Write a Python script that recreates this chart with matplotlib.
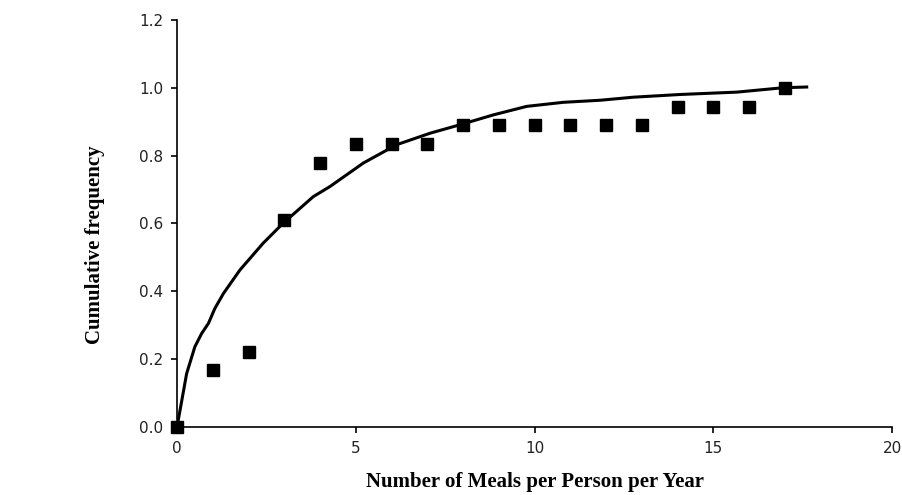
import matplotlib
matplotlib.use("Agg")
import matplotlib.pyplot as plt

# Observed cumulative frequency (squares)
refeicoes = [0, 1, 2, 3, 4, 5, 6, 7, 8, 9, 10, 11, 12, 13, 14, 15, 16, 17]
freq_obs = [0.0, 0.167, 0.222, 0.611, 0.778, 0.833, 0.833, 0.833, 0.889,
            0.889, 0.889, 0.889, 0.889, 0.889, 0.944, 0.944, 0.944, 1.0]

# Fitted curve (line)
curva_x = [0.0, 0.27, 0.5, 0.69, 0.88, 1.06, 1.3, 1.76, 2.41, 2.97, 3.81,
           4.28, 5.21, 6.14, 7.08, 7.92, 8.85, 9.78, 10.81, 11.83, 12.76,
           14.07, 15.66, 16.96, 17.61]
curva_y = [0.0, 0.158, 0.237, 0.276, 0.306, 0.35, 0.394, 0.463, 0.542, 0.601,
           0.679, 0.709, 0.778, 0.832, 0.866, 0.891, 0.92, 0.945, 0.957,
           0.963, 0.972, 0.98, 0.987, 1.0, 1.002]

fig = plt.figure(figsize=(9.03, 4.95), dpi=100)
ax = fig.add_axes([0.196, 0.137, 0.792, 0.823])

ax.plot(curva_x, curva_y, color="black", linewidth=2.2, zorder=2)
ax.plot(refeicoes, freq_obs, linestyle="none", marker="s", markersize=8,
        color="black", zorder=3, clip_on=False)

ax.set_xlim(0, 20)
ax.set_ylim(0, 1.2)
ax.set_xticks([0, 5, 10, 15, 20])
ax.set_yticks([0, 0.2, 0.4, 0.6, 0.8, 1.0, 1.2])
ax.set_yticklabels(["0.0", "0.2", "0.4", "0.6", "0.8", "1.0", "1.2"])

for lado in ["top", "right"]:
    ax.spines[lado].set_visible(False)
for lado in ["left", "bottom"]:
    ax.spines[lado].set_linewidth(1.2)

ax.tick_params(direction="out", length=4, width=1.2, labelsize=11,
               labelcolor="#222222", pad=6)

fonte_serif = {"family": "Liberation Serif", "weight": "bold", "size": 15}
ax.set_xlabel("Number of Meals per Person per Year", fontdict=fonte_serif)
ax.set_ylabel("Cumulative frequency", fontdict=fonte_serif)
ax.xaxis.set_label_coords(0.5, -0.11)
ax.yaxis.set_label_coords(-0.1, 0.447)

plt.savefig("out.png", dpi=100)
